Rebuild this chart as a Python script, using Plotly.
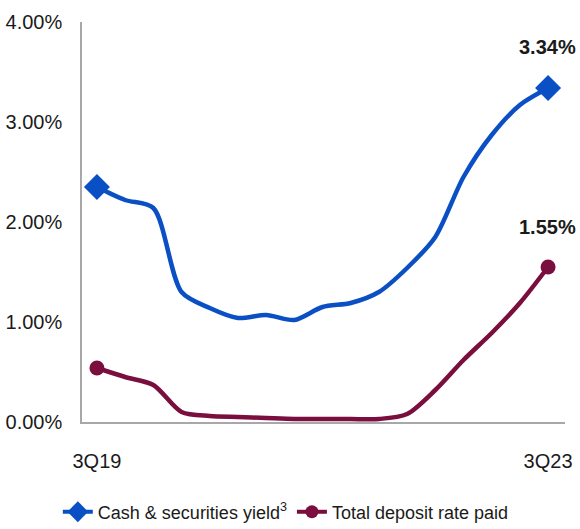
import plotly.graph_objects as go

quarters = ["3Q19", "4Q19", "1Q20", "2Q20", "3Q20", "4Q20", "1Q21", "2Q21", "3Q21",
            "4Q21", "1Q22", "2Q22", "3Q22", "4Q22", "1Q23", "2Q23", "3Q23"]
cash_yield = [2.35, 2.22, 2.14, 1.30, 1.14, 1.04, 1.07, 1.02, 1.15,
              1.19, 1.30, 1.54, 1.85, 2.45, 2.87, 3.17, 3.34]
deposit_rate = [0.54, 0.45, 0.37, 0.10, 0.06, 0.05, 0.04, 0.03, 0.03,
                0.03, 0.03, 0.08, 0.32, 0.62, 0.89, 1.19, 1.55]
tick_labels = ["0.00%", "1.00%", "2.00%", "3.00%", "4.00%"]
tick_vals = [0, 1, 2, 3, 4]
series_names = ["Cash & securities yield<sup>3</sup>", "Total deposit rate paid"]

BLUE = "#0A50C4"
RED = "#7A0E3E"
FONT = "Liberation Sans, Arial, sans-serif"
TXT = "#1a1a1a"

x = list(range(len(quarters)))
n = len(quarters)
ends = [0, n - 1]

fig = go.Figure()
# main lines
fig.add_trace(go.Scatter(
    x=x, y=cash_yield, mode="lines", showlegend=False, hoverinfo="skip",
    line=dict(color=BLUE, width=4.5, shape="spline", smoothing=0.8),
))
fig.add_trace(go.Scatter(
    x=x, y=deposit_rate, mode="lines", showlegend=False, hoverinfo="skip",
    line=dict(color=RED, width=4.5, shape="spline", smoothing=0.8),
))
# endpoint markers
fig.add_trace(go.Scatter(
    x=[x[i] for i in ends], y=[cash_yield[i] for i in ends], mode="markers",
    showlegend=False, marker=dict(symbol="diamond", size=20, color=BLUE, opacity=1),
))
fig.add_trace(go.Scatter(
    x=[x[i] for i in ends], y=[deposit_rate[i] for i in ends], mode="markers",
    showlegend=False, marker=dict(symbol="circle", size=15, color=RED, opacity=1),
))
# legend entries
fig.add_trace(go.Scatter(
    x=[None], y=[None], mode="lines+markers", name=series_names[0],
    line=dict(color=BLUE, width=4), marker=dict(symbol="diamond", size=16, color=BLUE),
))
fig.add_trace(go.Scatter(
    x=[None], y=[None], mode="lines+markers", name=series_names[1],
    line=dict(color=RED, width=4), marker=dict(symbol="circle", size=13, color=RED),
))

fig.add_annotation(x=x[-1], y=cash_yield[-1], text="<b>%.2f%%</b>" % cash_yield[-1],
                   showarrow=False, yshift=41, xshift=-1,
                   font=dict(size=20, color=TXT, family=FONT))
fig.add_annotation(x=x[-1], y=deposit_rate[-1], text="<b>%.2f%%</b>" % deposit_rate[-1],
                   showarrow=False, yshift=40, xshift=-1,
                   font=dict(size=20, color=TXT, family=FONT))

fig.update_layout(
    width=580, height=529,
    margin=dict(l=82, r=15, t=22, b=107),
    paper_bgcolor="white", plot_bgcolor="white",
    font=dict(family=FONT, size=18, color=TXT),
    showlegend=True,
    legend=dict(orientation="h", x=0.0997, xref="container", xanchor="left",
                y=0.032, yref="container", yanchor="middle",
                font=dict(size=18, family=FONT, color=TXT),
                itemwidth=30, tracegroupgap=0, bgcolor="rgba(0,0,0,0)"),
)
fig.update_xaxes(
    range=[-0.53, 16.6], showgrid=False, zeroline=False, automargin=False,
    showline=True, linecolor="#A8A8A8", linewidth=1.5,
    tickvals=ends, ticktext=[quarters[0], quarters[-1]],
    ticks="", ticklabelstandoff=20, tickfont=dict(size=20, family=FONT, color=TXT),
)
fig.update_yaxes(
    range=[0, 4.0], showgrid=False, zeroline=False, automargin=False,
    showline=True, linecolor="#A8A8A8", linewidth=1.5,
    tickvals=tick_vals, ticktext=tick_labels, ticks="", ticklabelstandoff=14,
    tickfont=dict(size=20, family=FONT, color=TXT),
)

# remove the default 8px page margin so the 580x529 figure fills the window exactly
fig.write_html(
    "out.html",
    config={"displayModeBar": False},
    post_script="document.body.style.margin='0';document.body.style.overflow='hidden';",
)
